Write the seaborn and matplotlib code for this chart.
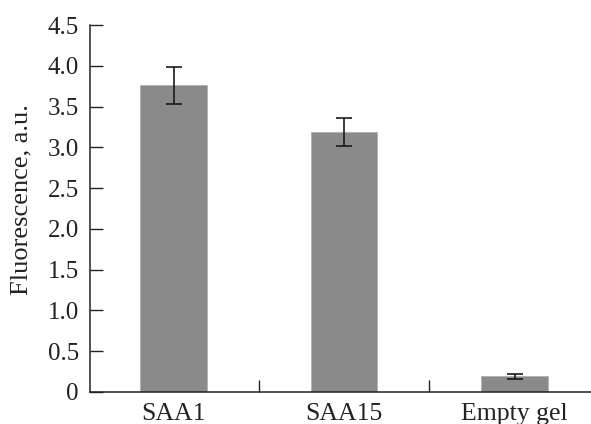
import matplotlib
matplotlib.use("Agg")
import matplotlib.pyplot as plt
import seaborn as sns
import pandas as pd

categories = ["SAA1", "SAA15", "Empty gel"]
values = [3.76, 3.19, 0.19]
errors = [0.23, 0.175, 0.035]
yticks = [0, 0.5, 1.0, 1.5, 2.0, 2.5, 3.0, 3.5, 4.0, 4.5]
ytick_labels = ["0", "0.5", "1.0", "1.5", "2.0", "2.5", "3.0", "3.5", "4.0", "4.5"]

sns.set_style("ticks")
plt.rcParams["font.family"] = ["Liberation Serif", "DejaVu Serif"]

df = pd.DataFrame({"cat": categories, "val": values})

fig = plt.figure(figsize=(5.91, 4.24), dpi=100)
ax = fig.add_axes([0.1523, 0.0755, 0.86, 0.8655])

sns.barplot(data=df, x="cat", y="val", ax=ax, color="#8a8a8a", saturation=1,
            width=0.39, edgecolor="#b0b0b0", linewidth=0.6, errorbar=None)
ax.errorbar(range(len(categories)), values, yerr=errors, fmt="none",
            ecolor="#1a1a1a", elinewidth=1.2, capsize=5.5, capthick=1.2)

ax.set_ylim(0, 4.5)
ax.set_xlim(-0.49, 2.49)
ax.set_yticks(yticks)
ax.set_yticklabels(ytick_labels)
ax.set_xticks([0.5, 1.5], minor=False)
ax.set_xticklabels([])
ax.set_xticks([0, 1, 2], minor=True)
ax.set_xticklabels(categories, minor=True)
ax.tick_params(axis="x", which="major", direction="in", length=9, width=1, color="#222222")
ax.tick_params(axis="x", which="minor", length=0, labelsize=18.5, pad=8, colors="#222222")
ax.tick_params(axis="y", direction="in", length=9, width=1, labelsize=18, pad=8, colors="#222222")
ax.set_xlabel("")
ax.set_ylabel("Fluorescence, a.u.", fontsize=19, color="#222222")
ax.yaxis.set_label_coords(-0.114, 0.523)

for s in ["top", "right"]:
    ax.spines[s].set_visible(False)
for s in ["left", "bottom"]:
    ax.spines[s].set_color("#222222")
    ax.spines[s].set_linewidth(1.1)

fig.savefig("out.png", dpi=100)
